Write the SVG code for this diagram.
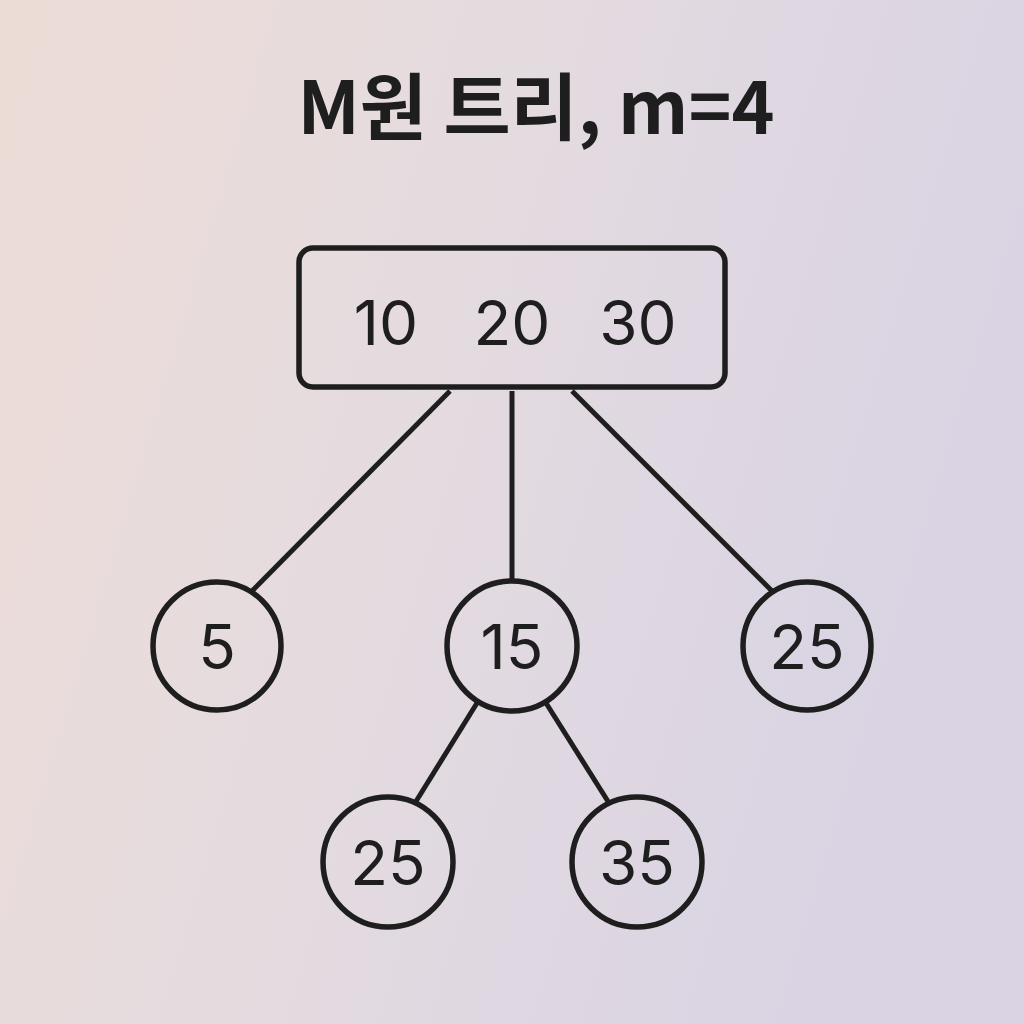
<svg xmlns="http://www.w3.org/2000/svg" width="1024" height="1024" viewBox="0 0 1024 1024">
<defs>
<linearGradient id="bg" x1="0" y1="0" x2="1" y2="0.3">
<stop offset="0" stop-color="#eddcd6"/>
<stop offset="0.5" stop-color="#e4dbe0"/>
<stop offset="1" stop-color="#d9d3e3"/>
</linearGradient>
<style>
.node{fill:none;stroke:#1e1e1e;stroke-width:5.5}
.edge{stroke:#1e1e1e;stroke-width:5;fill:none}
.lbl{font-family:Inter,"Noto Sans",sans-serif;font-size:62px;fill:#1e1e1e;text-anchor:middle}
.title{font-family:"Noto Sans CJK KR","Noto Sans",sans-serif;font-weight:700;font-size:73px;fill:#1e1e1e;text-anchor:middle}
</style>
</defs>
<rect width="1024" height="1024" fill="url(#bg)"/>
<text class="title" x="536" y="134">M원 트리, m=4</text>
<g id="connectors">
<line class="edge" x1="450" y1="391" x2="252" y2="591"/>
<line class="edge" x1="512" y1="391" x2="512" y2="581"/>
<line class="edge" x1="572" y1="391" x2="772" y2="591"/>
<line class="edge" x1="477" y1="703" x2="415" y2="803"/>
<line class="edge" x1="546" y1="703" x2="609" y2="803"/>
</g>
<g id="root">
<rect class="node" x="299" y="248" width="426" height="139" rx="14"/>
<text class="lbl" x="386" y="345">10</text>
<text class="lbl" x="512" y="345">20</text>
<text class="lbl" x="638" y="345">30</text>
</g>
<g id="n5"><circle class="node" cx="217" cy="646" r="64"/><text class="lbl" x="217" y="669">5</text></g>
<g id="n15"><circle class="node" cx="512" cy="646" r="65"/><text class="lbl" x="512" y="669">15</text></g>
<g id="n25a"><circle class="node" cx="807" cy="646" r="64"/><text class="lbl" x="807" y="669">25</text></g>
<g id="n25b"><circle class="node" cx="388" cy="862" r="65"/><text class="lbl" x="388" y="885">25</text></g>
<g id="n35"><circle class="node" cx="637" cy="862" r="65"/><text class="lbl" x="637" y="885">35</text></g>
</svg>
